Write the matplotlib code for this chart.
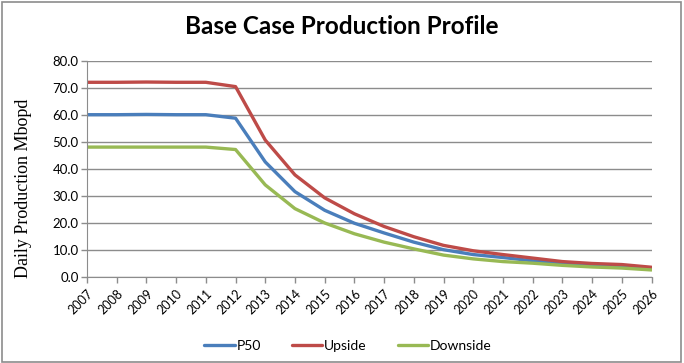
import matplotlib
matplotlib.use("Agg")
import matplotlib.pyplot as plt
from matplotlib.patches import Rectangle

years = list(range(2007, 2027))
p50 = [60.0, 60.0, 60.1, 60.0, 60.0, 58.7, 42.5, 31.5, 24.6, 19.8,
       16.2, 12.8, 10.0, 8.2, 7.1, 5.9, 4.9, 4.2, 3.7, 3.0]
upside = [72.0, 72.0, 72.1, 72.0, 72.0, 70.4, 50.6, 37.7, 29.2, 23.3,
          18.6, 14.8, 11.6, 9.6, 8.2, 6.9, 5.6, 4.9, 4.5, 3.5]
downside = [48.0, 48.0, 48.0, 48.0, 48.0, 47.1, 34.0, 25.2, 19.9, 15.9,
            12.8, 10.3, 8.0, 6.6, 5.6, 5.0, 4.2, 3.6, 3.2, 2.5]
series_names = ["P50", "Upside", "Downside"]
yticks = [0, 10, 20, 30, 40, 50, 60, 70, 80]

colors = ["#4A7EBB", "#BE4B48", "#98B954"]
font = "Lato"

fig = plt.figure(figsize=(6.84, 3.63), dpi=100)
fig.patch.set_facecolor("white")
ax = fig.add_axes([87/684, 1 - 276.7/363, (651.5 - 87)/684, (276.7 - 60.7)/363])

for vals, name, c in zip([p50, upside, downside], series_names, colors):
    ax.plot(years, vals, color=c, lw=2.4, label=name, solid_capstyle="round")

ax.set_xlim(2007, 2026)
ax.set_ylim(0, 80)
ax.set_yticks(yticks)
ax.set_yticklabels([f"{v:.1f}" for v in yticks], fontfamily=font, fontsize=9.5)
ax.set_xticks(years)
ax.set_xticklabels([str(y) for y in years], rotation=45, ha="right",
                   rotation_mode="anchor", fontfamily=font, fontsize=9)
ax.grid(axis="y", color="#8C8C8C", lw=1.0)
ax.set_axisbelow(True)
for s in ["top", "right"]:
    ax.spines[s].set_visible(False)
ax.spines["left"].set_color("#8C8C8C")
ax.spines["bottom"].set_color("#8C8C8C")
ax.tick_params(axis="both", color="#8C8C8C", length=4, width=1, pad=2)
ax.tick_params(axis="x", pad=4)

ax.set_ylabel("Daily Production Mbopd", fontfamily="Liberation Serif", fontsize=13)
ax.yaxis.set_label_coords(-0.097, 0.41)

fig.text(0.5, 1 - 27/363, "Base Case Production Profile", ha="center", va="center",
         fontfamily=font, fontweight="bold", fontsize=17.5)

leg = fig.legend(loc="center", bbox_to_anchor=(348/684, 1 - 345.7/363), ncol=3,
                 frameon=False, prop={"family": font, "size": 10},
                 handlelength=2.2, handletextpad=0.15, columnspacing=2.2)

fig.patches.append(Rectangle((2/684, 1/363), 679/684, 360/363, transform=fig.transFigure,
                             fill=False, edgecolor="#8C8C8C", lw=1.2))

fig.savefig("out.png", dpi=100)
